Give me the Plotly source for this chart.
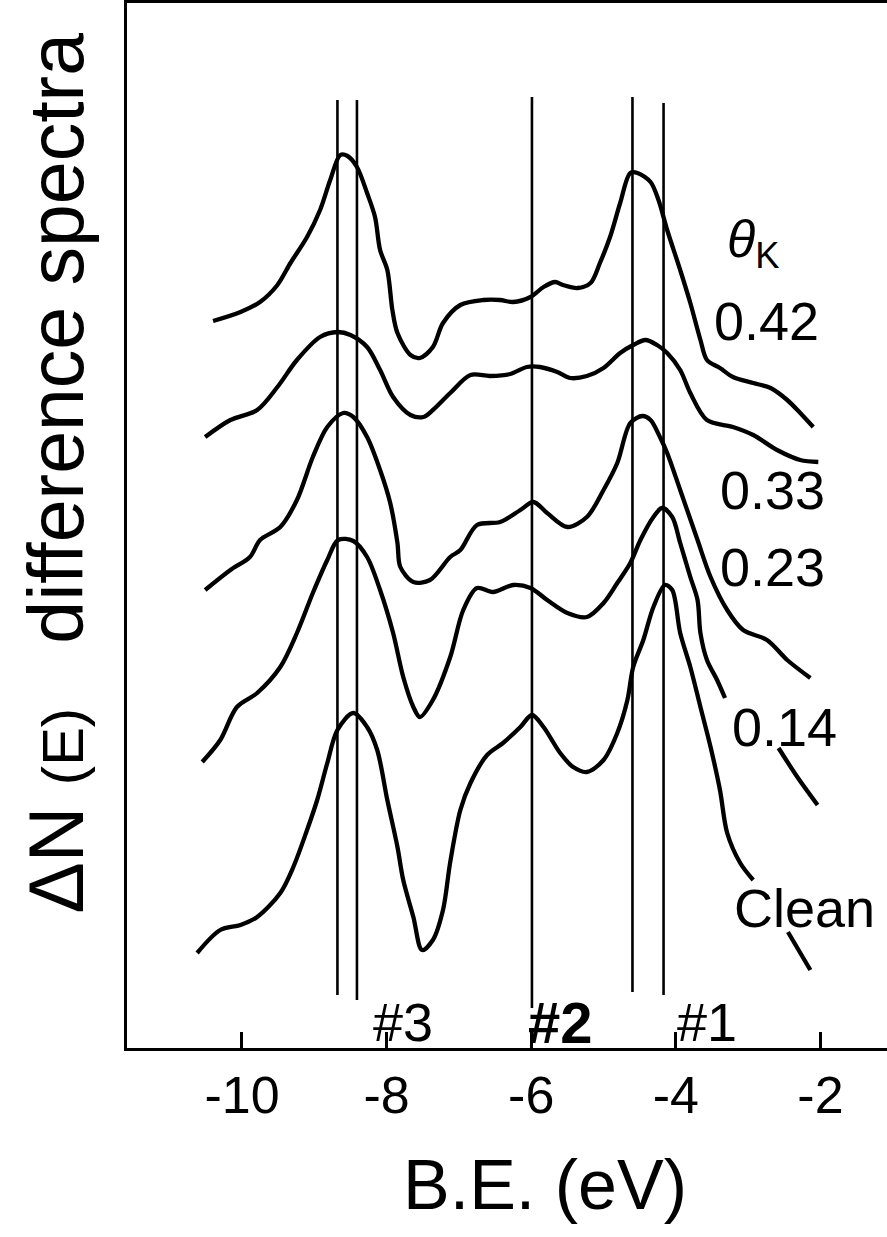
import plotly.graph_objects as go

# Binding energy (eV) and difference-spectrum intensity (arb. units, offset per coverage)
e_042 = [-10.40, -10.02, -9.75, -9.51, -9.33, -9.10, -8.92, -8.78, -8.64, -8.54, -8.41, -8.27, -8.16, -8.09,
         -7.99, -7.92, -7.85, -7.67, -7.54, -7.36, -7.22, -6.98, -6.66, -6.43, -6.25, -6.01, -5.83, -5.67,
         -5.56, -5.36, -5.18, -5.05, -4.91, -4.77, -4.63, -4.53, -4.35, -4.24, -4.12, -3.94, -3.80, -3.66,
         -3.57, -3.39, -3.21, -2.93, -2.69, -2.46, -2.28, -2.10]
i_042 = [72.7, 73.6, 74.6, 76.3, 78.5, 81.1, 83.8, 86.8, 89.3, 89.2, 88.1, 85.5, 83.1, 79.8,
         77.8, 73.8, 71.5, 69.3, 69.0, 70.1, 72.5, 74.3, 74.8, 74.8, 74.6, 75.1, 76.1, 76.6,
         76.3, 76.0, 76.5, 78.5, 81.1, 84.5, 87.5, 87.5, 86.6, 84.8, 81.8, 77.8, 74.5, 70.8,
         68.8, 68.0, 67.1, 66.5, 66.0, 64.8, 63.5, 62.1]

e_033 = [-10.51, -10.16, -9.79, -9.51, -9.24, -8.92, -8.68, -8.50, -8.27, -8.09, -7.91, -7.67, -7.49, -7.36,
         -7.12, -6.84, -6.57, -6.29, -6.06, -5.88, -5.64, -5.46, -5.23, -5.00, -4.77, -4.59, -4.42, -4.26,
         -4.12, -3.94, -3.80, -3.57, -3.21, -2.93, -2.60, -2.28, -2.03]
i_033 = [61.1, 62.8, 63.8, 66.1, 68.8, 71.1, 71.6, 71.3, 70.1, 67.8, 65.1, 63.3, 63.1, 63.8,
         65.5, 67.3, 67.2, 67.4, 68.1, 68.1, 67.6, 67.0, 67.2, 68.0, 69.5, 70.3, 70.8, 70.3,
         69.5, 67.8, 65.5, 62.8, 62.1, 61.3, 59.8, 58.8, 58.6]

e_023 = [-10.51, -10.16, -9.89, -9.75, -9.47, -9.24, -9.02, -8.82, -8.60, -8.46, -8.27, -8.09, -7.95, -7.85,
         -7.81, -7.63, -7.40, -7.12, -6.98, -6.75, -6.43, -6.15, -5.97, -5.78, -5.50, -5.23, -5.00, -4.81,
         -4.63, -4.46, -4.35, -4.22, -4.12, -3.94, -3.70, -3.52, -3.29, -3.07, -2.74, -2.46, -2.14]
i_023 = [45.8, 47.8, 49.1, 50.8, 52.1, 54.8, 59.1, 62.1, 63.5, 63.1, 61.1, 57.8, 54.5, 50.5,
         48.1, 46.6, 46.8, 49.1, 49.8, 52.3, 52.6, 53.8, 54.6, 53.5, 52.1, 53.1, 55.8, 58.5,
         62.5, 63.2, 62.8, 61.1, 59.5, 55.8, 50.8, 47.1, 43.8, 41.8, 40.8, 38.8, 37.0]

e_014 = [-10.55, -10.30, -10.07, -9.79, -9.47, -9.24, -9.02, -8.82, -8.67, -8.46, -8.27, -8.09, -7.91, -7.77,
         -7.63, -7.54, -7.36, -7.12, -6.94, -6.75, -6.53, -6.25, -6.01, -5.78, -5.50, -5.23, -5.00, -4.81,
         -4.63, -4.49, -4.31, -4.19, -4.05, -3.94, -3.80, -3.70, -3.66, -3.57, -3.43, -3.32, None,
         -2.58, -2.32, -2.04]
i_014 = [28.6, 30.8, 34.1, 35.5, 38.1, 41.5, 45.5, 48.8, 50.8, 50.7, 49.1, 45.8, 41.5, 37.1,
         34.1, 33.1, 34.8, 39.1, 43.8, 46.0, 45.6, 46.3, 46.0, 44.8, 43.5, 43.1, 44.5, 46.5,
         48.5, 50.8, 53.1, 54.0, 53.1, 50.5, 47.1, 44.8, 41.5, 38.8, 36.8, 35.0, None,
         30.0, 27.1, 24.3]

e_clean = [-10.62, -10.30, -10.02, -9.79, -9.47, -9.29, -9.10, -8.96, -8.82, -8.68, -8.46, -8.27, -8.13, -7.99,
           -7.85, -7.77, -7.63, -7.51, -7.36, -7.22, -7.12, -6.98, -6.84, -6.61, -6.39, -6.15, -5.99, -5.83,
           -5.60, -5.42, -5.23, -5.00, -4.81, -4.67, -4.59, -4.45, -4.31, -4.15, -4.05, -3.94, -3.80, -3.66,
           -3.52, -3.39, -3.29, -3.11, -2.93, None, -2.45, -2.14]
i_clean = [9.5, 11.8, 12.3, 13.1, 15.5, 18.1, 21.8, 24.8, 28.5, 31.8, 33.5, 32.1, 29.8, 24.8,
           20.1, 16.8, 13.1, 9.8, 10.8, 13.8, 18.6, 23.8, 26.5, 29.3, 30.5, 32.1, 33.3, 32.1,
           29.5, 28.1, 27.6, 28.8, 31.5, 34.8, 38.1, 40.8, 44.1, 46.3, 45.8, 41.5, 38.1, 34.1,
           30.1, 25.8, 21.5, 18.5, 16.8, None, 11.6, 7.8]

# Peak marker lines (eV) and their vertical extent
marker_e = [-8.68, -8.41, -5.99, -4.60, -4.17]
marker_top = [94.8, 94.8, 95.1, 95.1, 94.5]
marker_bottom = [5.3, 4.8, 4.0, 5.6, 5.3]

peak_labels = ["#3", "#2", "#1"]
coverage_labels = ["0.42", "0.33", "0.23", "0.14", "Clean"]
x_ticks = [-10, -8, -6, -4, -2]

FONT = "Liberation Sans, Arial, Helvetica, sans-serif"

fig = go.Figure()

for xe, top, bot in zip(marker_e, marker_top, marker_bottom):
    fig.add_trace(go.Scatter(x=[xe, xe], y=[bot, top], mode="lines",
                             line=dict(color="black", width=2.6), showlegend=False, hoverinfo="skip"))

for ex, iy in [(e_042, i_042), (e_033, i_033), (e_023, i_023), (e_014, i_014), (e_clean, i_clean)]:
    fig.add_trace(go.Scatter(x=ex, y=iy, mode="lines", connectgaps=False,
                             line=dict(color="black", width=4.3, shape="spline", smoothing=0.9),
                             showlegend=False, hoverinfo="skip"))

# coverage labels
cov_pos = [(-2.75, 72.7), (-2.67, 55.8), (-2.67, 48.1), (-2.50, 32.1), (-2.22, 14.0)]
for txt, (ax, ay) in zip(coverage_labels, cov_pos):
    fig.add_annotation(x=ax, y=ay, text=txt, showarrow=False, xref="x", yref="y",
                       font=dict(family=FONT, size=54, color="black"), xanchor="center", yanchor="middle")

fig.add_annotation(x=-2.92, y=80.5, text="<i>θ</i><sub>K</sub>", showarrow=False,
                   font=dict(family=FONT, size=52, color="black"), xanchor="center", yanchor="middle")

# peak labels
pk_pos = [(-7.78, 2.6, False), (-5.60, 2.6, True), (-3.57, 2.6, False)]
for txt, (ax, ay, bold) in zip(peak_labels, pk_pos):
    fig.add_annotation(x=ax, y=ay, text=("<b>%s</b>" % txt) if bold else txt, showarrow=False,
                       font=dict(family=FONT, size=54 if not bold else 58, color="black"),
                       xanchor="center", yanchor="middle")

# axis titles
fig.add_annotation(x=0.55, y=-0.131, xref="paper", yref="paper", text="B.E. (eV)", showarrow=False,
                   font=dict(family=FONT, size=70, color="black"), xanchor="center", yanchor="middle")
fig.add_annotation(x=-0.093, y=0.55, xref="paper", yref="paper",
                   text="ΔN <span style='font-size:58px'>(E)</span>   difference spectra",
                   showarrow=False, textangle=-90,
                   font=dict(family=FONT, size=77, color="black"), xanchor="center", yanchor="middle")

fig.update_xaxes(range=[-11.59, -1.08], tickvals=x_ticks, ticktext=[str(t) for t in x_ticks],
                 ticks="inside", ticklen=16, tickwidth=2.5, tickcolor="black",
                 showline=True, linecolor="black", linewidth=3, mirror=True,
                 showgrid=False, zeroline=False,
                 tickfont=dict(family=FONT, size=52, color="black"))
fig.update_yaxes(range=[0, 104.5], showticklabels=False, ticks="", showline=True,
                 linecolor="black", linewidth=3, mirror=False, showgrid=False, zeroline=False)

fig.update_layout(width=887, height=1237, margin=dict(l=127, r=0, t=3, b=189),
                  paper_bgcolor="white", plot_bgcolor="white", showlegend=False)

fig.write_html("out.html")
